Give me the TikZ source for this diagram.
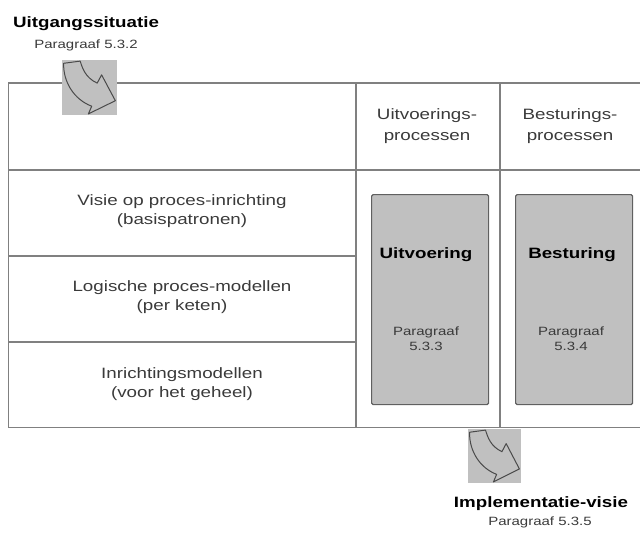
\documentclass[tikz,border=0pt]{standalone}
\usepackage{fontspec}
\setmainfont{Liberation Sans}[FakeStretch=1.25]
\definecolor{linegray}{HTML}{808080}
\definecolor{boxgray}{HTML}{C0C0C0}
\definecolor{edgegray}{HTML}{606060}
\definecolor{arrowedge}{HTML}{4A4A4A}
\definecolor{txt}{HTML}{3A3A3A}
\tikzset{
  curvearrow/.pic={
    \fill[boxgray] (0,0) rectangle (1,1);
    \draw[draw=arrowedge, line width=1pt, line join=round]
      (0.03,0.06) -- (0.33,0.02)
      .. controls (0.37,0.14) and (0.42,0.32) .. (0.64,0.42)
      -- (0.72,0.27) -- (0.97,0.74) -- (0.48,0.98) -- (0.54,0.84)
      .. controls (0.22,0.72) and (0.02,0.40) .. cycle;
  }
}
\begin{document}
\begin{tikzpicture}[x=1pt,y=-1pt,
  grid/.style={draw=linegray, line width=1.4pt},
  procbox/.style={draw=edgegray, fill=boxgray, line width=1.2pt, rounded corners=1.5pt, inner sep=0pt, anchor=north west},
  celltext/.style={text=txt, align=center, anchor=base, inner sep=0pt, font=\fontsize{15}{19}\selectfont},
  headtext/.style={text=txt, align=center, anchor=base, inner sep=0pt, font=\fontsize{15}{21}\selectfont},
  boldtext/.style={text=black, anchor=base, inner sep=0pt, font=\fontsize{15}{18}\selectfont\bfseries},
  smalltext/.style={text=txt, align=center, anchor=base, inner sep=0pt, font=\fontsize{12}{15}\selectfont}
]
\useasboundingbox (0,0) rectangle (640,533);

% table
\draw[grid] (640,83) -- (8.5,83) -- (8.5,427.5) -- (640,427.5);
\draw[grid] (8.5,170) -- (640,170);
\draw[grid] (8.5,256) -- (356,256);
\draw[grid] (8.5,342) -- (356,342);
\draw[grid] (356,83) -- (356,427.5);
\draw[grid] (500,83) -- (500,427.5);

% process boxes
\node[procbox, minimum width=117pt, minimum height=210pt] (uitvbox) at (371,194) {};
\node[procbox, minimum width=117pt, minimum height=210pt] (bestbox) at (515,194) {};

% arrow icons
\begin{scope}[shift={(62,60)}, x=55pt, y=-55pt]
  \pic {curvearrow};
\end{scope}
\begin{scope}[shift={(468,429)}, x=53pt, y=-54pt]
  \pic {curvearrow};
\end{scope}

% texts (base = baseline of the last line)
\node[boldtext] (uitgang) at (86,27) {Uitgangssituatie};
\node[smalltext] (uitgangpar) at (86,48) {Paragraaf 5.3.2};

\node[headtext] (uitvhead) at (427,140) {Uitvoerings-\\processen};
\node[headtext] (besthead) at (570,140) {Besturings-\\processen};

\node[celltext] (visie) at (182,224) {Visie op proces-inrichting\\(basispatronen)};
\node[celltext] (logisch) at (182,310) {Logische proces-modellen\\(per keten)};
\node[celltext] (inricht) at (182,397) {Inrichtingsmodellen\\(voor het geheel)};

\node[boldtext] (uitvlabel) at (426,258) {Uitvoering};
\node[smalltext] (uitvpar) at (426,350) {Paragraaf\\5.3.3};
\node[boldtext] (bestlabel) at (572,258) {Besturing};
\node[smalltext] (bestpar) at (571,350) {Paragraaf\\5.3.4};

\node[boldtext] (impl) at (541,507) {Implementatie-visie};
\node[smalltext] (implpar) at (540,525) {Paragraaf 5.3.5};
\end{tikzpicture}
\end{document}
